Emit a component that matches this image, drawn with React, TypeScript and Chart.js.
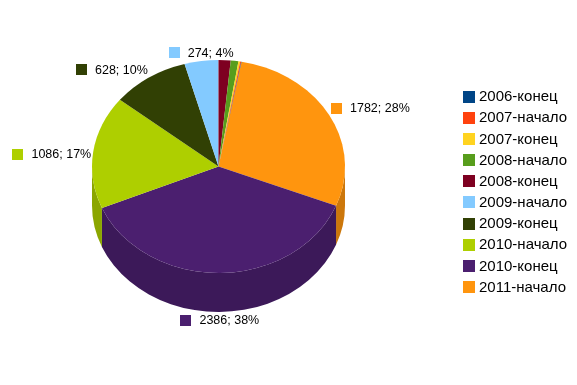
import { useEffect, useRef } from 'react';
import { Chart, registerables } from 'chart.js';

Chart.register(...registerables);

// ---- data (legend order) ----
const categories = [
  '2006-конец',
  '2007-начало',
  '2007-конец',
  '2008-начало',
  '2008-конец',
  '2009-начало',
  '2009-конец',
  '2010-начало',
  '2010-конец',
  '2011-начало',
];
const values = [3, 8, 14, 62, 98, 274, 628, 1086, 2386, 1782];
const colors = [
  '#004586',
  '#ff420e',
  '#ffd320',
  '#579d1c',
  '#7e0021',
  '#83caff',
  '#314004',
  '#aecf00',
  '#4b1f6f',
  '#ff950e',
];
// index of the first slice that starts at 12 o'clock (going counter-clockwise in the original)
const topBoundaryIndex = 5;

const FONT = '"Liberation Sans", Arial, sans-serif';
const TILT = 0.842;
const DEPTH = 39;

function darken(hex: string, f: number) {
  const n = parseInt(hex.slice(1), 16);
  const r = Math.round(((n >> 16) & 255) * f);
  const g = Math.round(((n >> 8) & 255) * f);
  const b = Math.round((n & 255) * f);
  return `rgb(${r},${g},${b})`;
}

function drawLabels(chart: any) {
  const meta = chart.getDatasetMeta(0);
  const ctx: CanvasRenderingContext2D = chart.ctx;
  const arcs = meta.data;
  if (!arcs.length) return;
  const ds = chart.data.datasets[0];
  const data = ds.data as number[];
  const bg = ds.backgroundColor as string[];
  const total = data.reduce((a, b) => a + b, 0);
  const cx = arcs[0].x;
  const cy = arcs[0].y;
  const r = arcs[0].outerRadius;
  const ry = r * TILT;
  const off = 2;
  ctx.save();
  ctx.font = `12.5px ${FONT}`;
  ctx.textBaseline = 'middle';
  ctx.textAlign = 'left';
  arcs.forEach((arc: any, i: number) => {
    const v = data[i];
    const pct = (v / total) * 100;
    if (pct < 3) return;
    const text = `${v}; ${Math.round(pct)}%`;
    const mid = (arc.startAngle + arc.endAngle) / 2;
    const c = Math.cos(mid);
    const s = Math.sin(mid);
    const ax = cx + (r + off) * c;
    const ay = cy + (ry + off) * s + (s > 0 ? DEPTH : 0);
    const box = 11;
    const gap = 8;
    const tw = ctx.measureText(text).width;
    const w = box + gap + tw;
    const h = 12;
    let left: number;
    if (c > 0.3) left = ax;
    else if (c < -0.3) left = ax - w;
    else left = ax - w / 2;
    let top: number;
    if (s < -0.3) top = ay - h;
    else if (s > 0.3) top = ay;
    else top = ay - h / 2 + 3;
    ctx.fillStyle = bg[i];
    ctx.fillRect(Math.round(left), Math.round(top + (h - box) / 2), box, box);
    ctx.fillStyle = '#000';
    ctx.fillText(text, left + box + gap, top + h / 2 + 0.5);
  });
  ctx.restore();
}

const pie3d = {
  id: 'pie3d',
  beforeDatasetsDraw(chart: any) {
    const meta = chart.getDatasetMeta(0);
    const ctx: CanvasRenderingContext2D = chart.ctx;
    const arcs = meta.data;
    if (!arcs.length) return false;
    const cx = arcs[0].x;
    const cy = arcs[0].y;
    const r = arcs[0].outerRadius;
    const ry = r * TILT;
    const bg = chart.data.datasets[0].backgroundColor as string[];
    ctx.save();
    // side walls (front half only)
    arcs.forEach((arc: any, i: number) => {
      const a0 = arc.startAngle;
      const a1 = arc.endAngle;
      for (let k = -1; k <= 1; k++) {
        const lo = 2 * Math.PI * k;
        const hi = lo + Math.PI;
        const s = Math.max(a0, lo);
        const e = Math.min(a1, hi);
        if (e > s) {
          ctx.beginPath();
          ctx.ellipse(cx, cy, r, ry, 0, s, e, false);
          ctx.ellipse(cx, cy + DEPTH, r, ry, 0, e, s, true);
          ctx.closePath();
          ctx.fillStyle = darken(bg[i], 0.8);
          ctx.fill();
        }
      }
    });
    // top faces
    arcs.forEach((arc: any, i: number) => {
      ctx.beginPath();
      ctx.moveTo(cx, cy);
      ctx.ellipse(cx, cy, r, ry, 0, arc.startAngle, arc.endAngle, false);
      ctx.closePath();
      ctx.fillStyle = bg[i];
      ctx.fill();
    });
    ctx.restore();
    return false;
  },
  afterDraw(chart: any) {
    drawLabels(chart);
    const ctx: CanvasRenderingContext2D = chart.ctx;
    ctx.save();
    ctx.font = `15px ${FONT}`;
    ctx.textBaseline = 'middle';
    ctx.textAlign = 'left';
    const x0 = 463;
    const y0 = 96.7;
    const step = 21.15;
    categories.forEach((cat, i) => {
      const y = y0 + i * step;
      ctx.fillStyle = colors[i];
      ctx.fillRect(x0, Math.round(y - 6), 12, 12);
      ctx.fillStyle = '#000';
      ctx.fillText(cat, x0 + 16, y + 0.5);
    });
    ctx.restore();
  },
};

export default function App() {
  const ref = useRef<HTMLCanvasElement | null>(null);
  useEffect(() => {
    document.body.style.margin = '0';
    if (!ref.current) return;
    const total = values.reduce((a, b) => a + b, 0);
    const before = values.slice(0, topBoundaryIndex).reduce((a, b) => a + b, 0);
    const chart = new Chart(ref.current, {
      type: 'pie',
      data: {
        labels: [...categories].reverse(),
        datasets: [
          {
            data: [...values].reverse(),
            backgroundColor: [...colors].reverse(),
            borderWidth: 0,
            radius: 126.5,
          } as any,
        ],
      },
      options: {
        responsive: false,
        animation: false,
        rotation: (before / total) * 360,
        layout: { padding: { left: 0, right: 140, top: 0, bottom: 52 } },
        plugins: {
          legend: { display: false },
          tooltip: { enabled: false },
        },
        events: [],
      },
      plugins: [pie3d],
    });
    return () => chart.destroy();
  }, []);
  return (
    <div style={{ width: 577, height: 385, background: '#fff' }}>
      <canvas ref={ref} width={577} height={385} style={{ display: 'block' }} />
    </div>
  );
}
